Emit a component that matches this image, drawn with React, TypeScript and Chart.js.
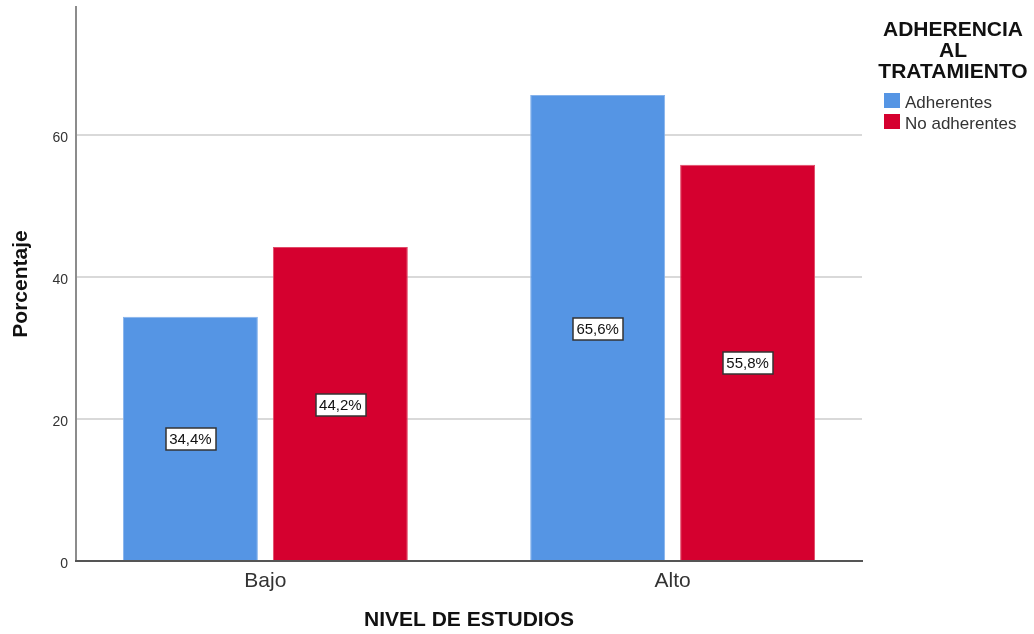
import React, { useEffect, useRef } from 'react';
import { Chart, registerables } from 'chart.js';

Chart.register(...registerables);

const categories = ['Bajo', 'Alto'];
const seriesNames = ['Adherentes', 'No adherentes'];
const adherentes = [34.4, 65.6];
const noAdherentes = [44.2, 55.8];
const yTicks = [0, 20, 40, 60];
const legendTitle = ['ADHERENCIA', 'AL', 'TRATAMIENTO'];
const xTitle = 'NIVEL DE ESTUDIOS';
const yTitle = 'Porcentaje';
const fillColors = ['#5595E4', '#D5002F'];
const edgeColors = ['#86b3ec', '#e04a68'];

const FONT = "'Liberation Sans', Arial, Helvetica, sans-serif";

const valueLabels = {
  id: 'valueLabels',
  afterDatasetsDraw(chart: any) {
    const ctx = chart.ctx;
    ctx.save();
    ctx.font = `15px ${FONT}`;
    ctx.textAlign = 'center';
    ctx.textBaseline = 'middle';
    chart.data.datasets.forEach((ds: any, di: number) => {
      const meta = chart.getDatasetMeta(di);
      meta.data.forEach((el: any, i: number) => {
        const v = ds.data[i].y;
        const txt = v.toFixed(1).replace('.', ',') + '%';
        const w = ctx.measureText(txt).width + 7;
        const h = 22;
        const cx = el.x;
        const cy = (el.y + el.base) / 2 + 1;
        ctx.fillStyle = '#ffffff';
        ctx.fillRect(Math.round(cx - w / 2), Math.round(cy - h / 2), Math.round(w), h);
        ctx.strokeStyle = '#333333';
        ctx.lineWidth = 1.5;
        ctx.strokeRect(Math.round(cx - w / 2), Math.round(cy - h / 2), Math.round(w), h);
        ctx.fillStyle = '#111111';
        ctx.fillText(txt, cx, cy + 1);
      });
    });
    ctx.restore();
  },
};

const sideLegend = {
  id: 'sideLegend',
  afterDraw(chart: any) {
    const ctx = chart.ctx;
    ctx.save();
    ctx.font = `bold 21px ${FONT}`;
    ctx.fillStyle = '#111111';
    ctx.textAlign = 'center';
    ctx.textBaseline = 'alphabetic';
    legendTitle.forEach((line, i) => {
      ctx.fillText(line, 953, 36 + i * 21);
    });
    ctx.font = `17px ${FONT}`;
    ctx.textAlign = 'left';
    chart.data.datasets.forEach((ds: any, i: number) => {
      const top = 93 + i * 21;
      ctx.fillStyle = ds.backgroundColor;
      ctx.fillRect(884, top, 16, 15);
      ctx.fillStyle = '#333333';
      ctx.fillText(ds.label, 905, top + 15);
    });
    ctx.restore();
  },
};

export default function App() {
  const ref = useRef<HTMLCanvasElement>(null);

  useEffect(() => {
    if (!ref.current) return;
    const chart = new Chart(ref.current, {
      type: 'bar',
      data: {
        datasets: [adherentes, noAdherentes].map((vals, s) => ({
          label: seriesNames[s],
          data: vals.map((v, i) => ({ x: i, y: v })),
          backgroundColor: fillColors[s],
          borderColor: edgeColors[s],
          borderWidth: 1,
          barPercentage: 0.9,
          categoryPercentage: 0.7364,
        })),
      },
      options: {
        responsive: false,
        animation: false,
        layout: { padding: { top: 7, right: 172, left: 0, bottom: 0 } },
        plugins: {
          legend: { display: false },
          tooltip: { enabled: false },
          title: { display: false },
        },
        scales: {
          x: {
            type: 'linear',
            min: -0.465,
            max: 1.465,
            offset: false,
            afterBuildTicks: (s: any) => {
              s.ticks = categories.map((_, i) => ({ value: i }));
            },
            afterFit: (s: any) => {
              s.height = 73;
              s.paddingLeft = 0;
              s.paddingRight = 0;
            },
            grid: { display: false, drawTicks: false },
            border: { display: true, color: '#555555', width: 2, z: 1 },
            ticks: {
              padding: 8,
              autoSkip: false,
              maxRotation: 0,
              color: '#333333',
              font: { family: FONT, size: 21 },
              callback: (v: any) => categories[v] ?? '',
            },
            title: {
              display: true,
              text: xTitle,
              color: '#111111',
              font: { family: FONT, size: 21, weight: 'bold' },
              padding: { top: 0, bottom: 1 },
            },
          },
          y: {
            min: 0,
            max: 78,
            afterBuildTicks: (s: any) => {
              s.ticks = yTicks.map((v) => ({ value: v }));
            },
            afterFit: (s: any) => {
              s.width = 76;
              s.paddingTop = 0;
              s.paddingBottom = 0;
            },
            grid: {
              color: (c: any) => (c.tick && c.tick.value === 0 ? 'rgba(0,0,0,0)' : '#d9d9d9'),
              lineWidth: 2,
              drawTicks: false,
            },
            border: { display: true, color: '#8c8c8c', width: 2 },
            ticks: {
              padding: 8,
              color: '#333333',
              font: { family: FONT, size: 14 },
              labelOffset: 3,
            },
            title: {
              display: true,
              text: yTitle,
              color: '#111111',
              font: { family: FONT, size: 21, weight: 'bold' },
              padding: { top: 9, bottom: 0 },
            },
          },
        },
      } as any,
      plugins: [valueLabels, sideLegend],
    });
    return () => chart.destroy();
  }, []);

  return (
    <div style={{ position: 'fixed', left: 0, top: 0, width: 1034, height: 634, background: '#ffffff' }}>
      <canvas ref={ref} width={1034} height={634} style={{ display: 'block' }} />
    </div>
  );
}
